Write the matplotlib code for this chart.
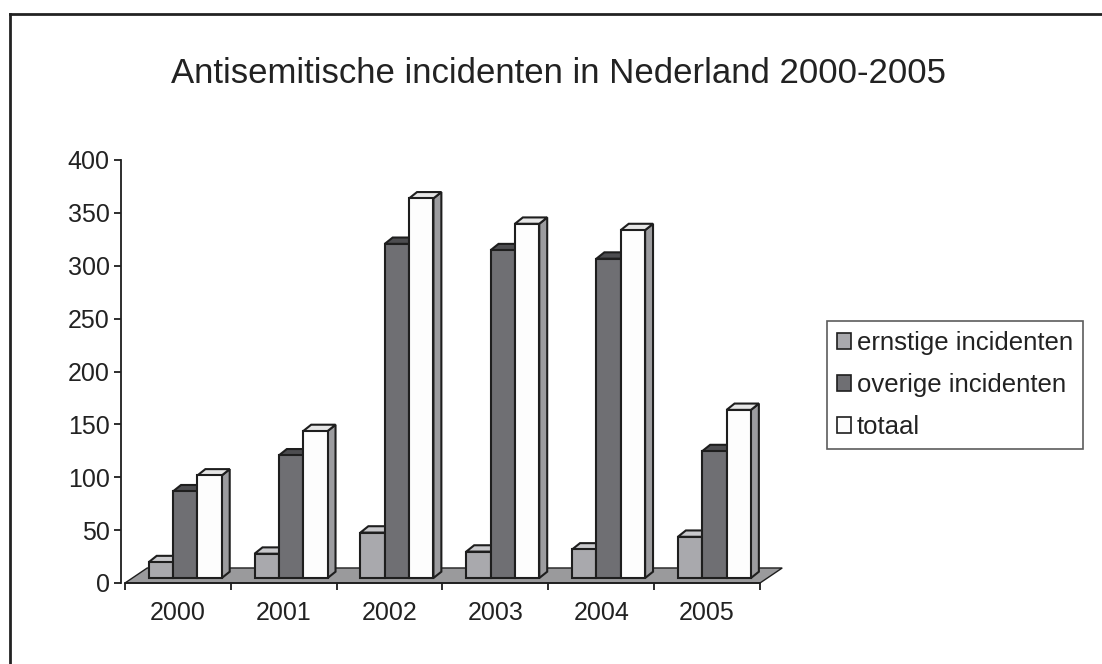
import matplotlib
matplotlib.use("Agg")
import matplotlib.pyplot as plt
from matplotlib.patches import Polygon, Rectangle

years = ["2000", "2001", "2002", "2003", "2004", "2005"]
ernstige = [15, 23, 43, 25, 27, 39]
overige = [82, 116, 316, 310, 302, 120]
totaal = [97, 139, 359, 335, 329, 159]
series_names = ["ernstige incidenten", "overige incidenten", "totaal"]

# face colours: front, top, side
styles = [
    ("#a9a9ad", "#c9c9cc", "#85858a"),
    ("#6f6f73", "#4d4d50", "#55555a"),
    ("#fdfdfd", "#e6e6e6", "#9c9c9f"),
]

plt.rcParams["font.family"] = ["Liberation Sans", "DejaVu Sans"]

fig = plt.figure(figsize=(11.02, 6.64), dpi=100)
ax = fig.add_axes([125 / 1102, 81 / 664, 635 / 1102, 423 / 664])
ax.set_xlim(-0.5, 5.5)
ax.set_ylim(0, 400)

# 3d projection offsets (data units)
fdx, fdy = 0.21, 14.2          # floor depth
f0 = 0.33                      # where the bars start in depth
bdx, bdy = 0.075, 6.0          # bar depth
w = 0.23
edge = "#1e1e1e"
lw = 1.5

# floor
ax.add_patch(Polygon([(-0.5, 0), (5.5, 0), (5.5 + fdx, fdy), (-0.5 + fdx, fdy)],
                     closed=True, facecolor="#9a9a9c", edgecolor=edge, lw=1.0,
                     zorder=1, clip_on=False))

sx, sy = f0 * fdx, f0 * fdy
for i in range(len(years)):
    for j, vals in enumerate([ernstige, overige, totaal]):
        v = vals[i]
        front, top, side = styles[j]
        x0 = i - 1.5 * w + j * w + sx
        y0 = sy
        z = 2 + i * 3 + j
        ax.add_patch(Polygon([(x0 + w, y0), (x0 + w + bdx, y0 + bdy),
                              (x0 + w + bdx, y0 + v + bdy), (x0 + w, y0 + v)],
                             closed=True, facecolor=side, edgecolor=edge, lw=lw,
                             zorder=z, clip_on=False))
        ax.add_patch(Polygon([(x0, y0 + v), (x0 + w, y0 + v),
                              (x0 + w + bdx, y0 + v + bdy), (x0 + bdx, y0 + v + bdy)],
                             closed=True, facecolor=top, edgecolor=edge, lw=lw,
                             zorder=z, clip_on=False))
        ax.add_patch(Rectangle((x0, y0), w, v, facecolor=front, edgecolor=edge,
                               lw=lw, zorder=z, clip_on=False))

for s in ["top", "right"]:
    ax.spines[s].set_visible(False)
ax.spines["left"].set_position(("outward", 3))
ax.spines["left"].set_color(edge)
ax.spines["bottom"].set_color(edge)
ax.spines["left"].set_linewidth(1.3)
ax.spines["bottom"].set_linewidth(1.3)

ax.set_yticks(range(0, 401, 50))
ax.set_xticks([i + 0.5 for i in range(-1, 6)], minor=False)
ax.set_xticklabels([])
ax.set_xticks(range(len(years)), minor=True)
ax.set_xticklabels(years, minor=True)
ax.tick_params(axis="x", which="minor", length=0, pad=13, labelsize=18, colors="#222")
ax.tick_params(axis="x", which="major", length=5, width=1.3, color=edge, direction="out")
ax.tick_params(axis="y", length=5, width=1.3, color=edge, labelsize=18,
               labelcolor="#222", pad=3)

fig.text(0.507, 0.89, "Antisemitische incidenten in Nederland 2000-2005",
         ha="center", va="center", fontsize=25, color="#222")

handles = [Rectangle((0, 0), 1, 1, facecolor=st[0], edgecolor=edge, lw=1.2)
           for st in styles]
leg = fig.legend(handles, series_names, loc="center left",
                 bbox_to_anchor=(827 / 1102, 1 - 385 / 664), fontsize=18.5,
                 frameon=True, fancybox=False, edgecolor="#333",
                 handlelength=0.55, handleheight=0.55, handletextpad=0.2,
                 borderpad=0.4, labelspacing=0.7, borderaxespad=0)
leg.get_frame().set_linewidth(1.2)
for t in leg.get_texts():
    t.set_color("#222")

# border of the chart area (top and left edges visible)
fig.add_artist(plt.Line2D([10 / 1102, 10 / 1102], [0, 1 - 14 / 664],
                          transform=fig.transFigure, color="#222", lw=2))
fig.add_artist(plt.Line2D([10 / 1102, 1], [1 - 14 / 664, 1 - 14 / 664],
                          transform=fig.transFigure, color="#222", lw=2))

fig.savefig("out.png", dpi=100)
